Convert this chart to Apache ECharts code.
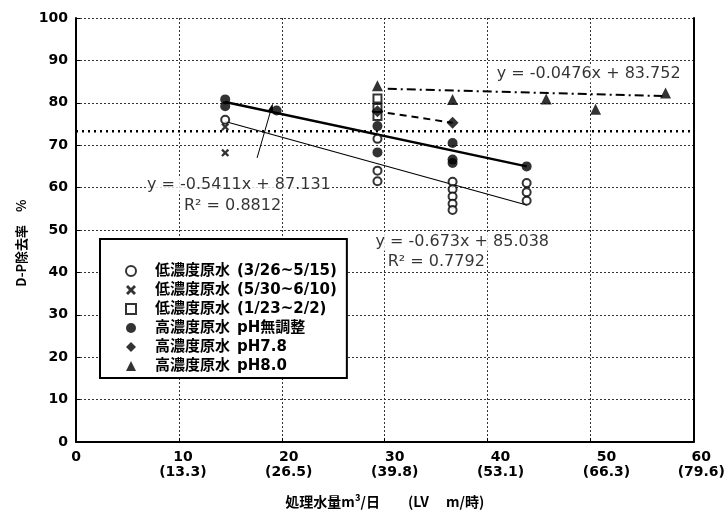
<!DOCTYPE html>
<html><head><meta charset="utf-8">
<script src="https://cdn.jsdelivr.net/npm/echarts@6/dist/echarts.min.js"></script>
<style>html,body{margin:0;padding:0;background:#fff}#c{width:728px;height:515px}</style>
</head><body><div id="c"></div>
<script>
// ---- data ----
const xTicks = [0, 10, 20, 30, 40, 50, 60];
const lvLabels = ['', '(13.3)', '(26.5)', '(39.8)', '(53.1)', '(66.3)', '(79.6)'];
const seriesNames = ['低濃度原水  (3/26~5/15)', '低濃度原水  (5/30~6/10)', '低濃度原水  (1/23~2/2)', '高濃度原水  pH無調整', '高濃度原水  pH7.8', '高濃度原水  pH8.0'];
const lowA = [[14.5,76.0],[29.3,71.5],[29.3,64.0],[29.3,61.5],[36.6,61.4],[36.6,59.6],[36.6,57.9],[36.6,56.2],[36.6,54.7],[43.8,61.1],[43.8,58.9],[43.8,56.9]];
const lowB = [[14.5,74.3],[14.5,68.2]];
const lowC = [[29.3,81.0],[29.3,78.8],[29.3,76.9]];
const highNoAdj = [[14.5,80.8],[14.5,79.2],[19.5,78.2],[29.3,74.5],[29.3,68.3],[36.6,70.5],[36.6,66.6],[36.6,65.8],[43.8,65.0]];
const high78 = [[29.3,78.0],[36.6,75.3]];
const high80 = [[29.3,84.0],[36.6,80.8],[45.7,80.9],[50.5,78.5],[57.3,82.3]];
const trendNoAdj = [[14.5,80.2],[43.8,65.0]];
const trendLow = [[14.5,75.6],[43.8,55.9]];
const trend78 = [[30.3,77.6],[36.6,75.3]];
const trend80 = [[30.3,83.3],[57.0,81.6]];
const leader = [[17.6,67.0],[19.0,78.8]];
const threshold = 73.3;
const eqLabels = [
  {pos:[40.8,86.9], text:'y = -0.0476x + 83.752'},
  {pos:[6.8,60.6], text:'y = -0.5411x + 87.131'},
  {pos:[10.4,55.6], text:'R² = 0.8812'},
  {pos:[29.0,47.2], text:'y = -0.673x + 85.038'},
  {pos:[30.2,42.5], text:'R² = 0.7792'}
];
// horizontal shift (px) of each x tick label as placed in the original figure
const labelShift = [0, 4, 7, 10, 13, 16, 8];

const crossPath = 'path://M2,0 L5,3 L8,0 L10,2 L7,5 L10,8 L8,10 L5,7 L2,10 L0,8 L3,5 L0,2 Z';
const FONT = '"DejaVu Sans", sans-serif';
const LFONT = '"DejaVu Sans", "Noto Sans CJK JP", sans-serif';
const JFONT = '"Noto Sans CJK JP", sans-serif';

const chart = echarts.init(document.getElementById('c'), null, {renderer:'canvas'});

function lineS(data, width, type) {
  return {type:'line', data:data, symbol:'none', silent:true, z:3,
    lineStyle:{color:'#000', width:width, type:type}, animation:false};
}

const xRich = {};
labelShift.forEach(function(s, i){
  xRich['s'+i] = {padding:[0,0,0,2*s], fontFamily:FONT, fontSize:14, fontWeight:'bold', color:'#000', lineHeight:15};
});

const option = {
  animation:false,
  backgroundColor:'#fff',
  grid:{left:76, right:34, top:18, bottom:73},
  legend:{
    orient:'vertical', left:100, top:239,
    data:seriesNames,
    backgroundColor:'#fff', borderColor:'#000', borderWidth:2,
    padding:[24, 10, 4, 25], itemGap:3, itemWidth:10, itemHeight:10,
    formatter:function(n){
      const k = n.indexOf('  ');
      return '{c|' + n.slice(0,k) + '}{g|}{l|' + n.slice(k+2) + '}';
    },
    textStyle:{color:'#000', padding:[0,0,0,14], lineHeight:16, fontFamily:LFONT, fontSize:15, fontWeight:'bold',
      rich:{
        c:{fontFamily:LFONT, fontSize:15, fontWeight:'bold', color:'#000', lineHeight:16},
        g:{width:7, lineHeight:16},
        l:{fontFamily:LFONT, fontSize:15, fontWeight:'bold', color:'#000', lineHeight:16}
      }}
  },
  xAxis:{
    type:'value', min:0, max:60, interval:10,
    name:'処理水量m³/日　　(LV　 m/時)', nameLocation:'middle', nameGap:53,
    nameTextStyle:{fontFamily:JFONT, fontSize:14, fontWeight:'bold', color:'#000'},
    axisLine:{lineStyle:{color:'#000', width:2}},
    axisTick:{inside:true, length:4, lineStyle:{color:'#000'}},
    axisLabel:{color:'#000', fontFamily:FONT, fontSize:14, fontWeight:'bold', lineHeight:15, rich:xRich,
      formatter:function(v){
        const i = xTicks.indexOf(v);
        const k = 's' + i;
        return lvLabels[i] ? '{'+k+'|'+v+'}\n{'+k+'|'+lvLabels[i]+'}' : '{'+k+'|'+v+'}';
      }},
    splitLine:{show:true, lineStyle:{color:'#333', width:1, type:[2,2]}}
  },
  yAxis:[{
    type:'value', min:0, max:100, interval:10,
    name:'D-P除去率　%　　', nameLocation:'middle', nameGap:28, nameRotate:90,
    nameTextStyle:{fontFamily:JFONT, fontSize:13, fontWeight:'bold', color:'#000'},
    axisLine:{show:true, lineStyle:{color:'#000', width:2}},
    axisTick:{show:true, inside:true, length:4, lineStyle:{color:'#000'}},
    axisLabel:{color:'#000', fontFamily:FONT, fontSize:14, fontWeight:'bold', margin:8},
    splitLine:{show:true, lineStyle:{color:'#333', width:1, type:[2,2]}}
  },{
    type:'value', min:0, max:100, interval:10, position:'right',
    axisLine:{show:true, lineStyle:{color:'#000', width:2}},
    axisTick:{show:false}, axisLabel:{show:false}, splitLine:{show:false}
  }],
  series:[
    {name:seriesNames[0], type:'scatter', data:lowA, symbol:'circle', symbolSize:8, z:5,
      itemStyle:{color:'#fff', borderColor:'#000', borderWidth:2}},
    {name:seriesNames[1], type:'scatter', data:lowB, symbol:crossPath, symbolSize:8, z:5,
      itemStyle:{color:'#000'}},
    {name:seriesNames[2], type:'scatter', data:lowC, symbol:'rect', symbolSize:8, z:5,
      itemStyle:{color:'#fff', borderColor:'#000', borderWidth:2}},
    {name:seriesNames[3], type:'scatter', data:highNoAdj, symbol:'circle', symbolSize:10, z:5,
      itemStyle:{color:'#000'}},
    {name:seriesNames[4], type:'scatter', data:high78, symbol:'diamond', symbolSize:12, z:5,
      itemStyle:{color:'#000'}},
    {name:seriesNames[5], type:'scatter', data:high80, symbol:'triangle', symbolSize:11, z:5,
      itemStyle:{color:'#000'}},
    lineS(trendNoAdj, 2.5, 'solid'),
    lineS(trendLow, 1.2, 'solid'),
    lineS(trend78, 2, [7,5]),
    lineS(trend80, 2, [9,4,2,4]),
    lineS([[0,threshold],[60,threshold]], 2.5, [2,4]),
    {type:'line', silent:true, z:3, showSymbol:true,
      data:[{value:leader[0], symbol:'none'}, {value:leader[1], symbol:'triangle', symbolSize:[6,9], symbolRotate:-16}],
      lineStyle:{color:'#000', width:1}, itemStyle:{color:'#000'}},
    {type:'scatter', data:eqLabels.map(e=>({value:e.pos, name:e.text})), symbolSize:0, z:6, silent:true,
      label:{show:true, position:'right', distance:0, formatter:p=>p.name, color:'#000',
        fontFamily:FONT, fontSize:16, backgroundColor:'#fff', padding:[1,1]}}
  ]
};
chart.setOption(option);
</script></body></html>
